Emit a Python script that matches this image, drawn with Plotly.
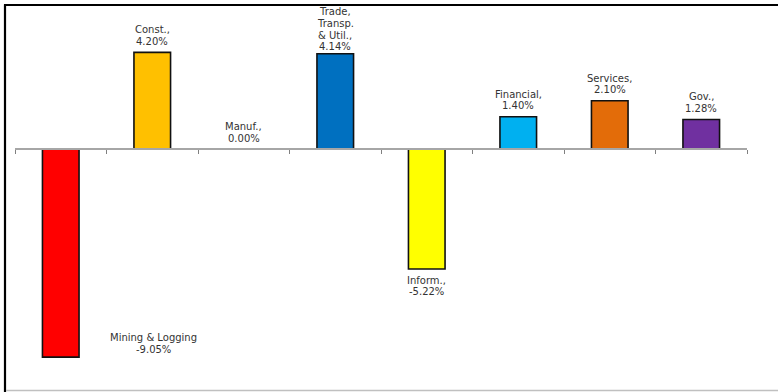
import plotly.graph_objects as go

# Sector data
sectors = ["Mining & Logging", "Const.,", "Manuf.,", "Trade,<br>Transp.<br>& Util.,",
           "Inform.,", "Financial,", "Services,", "Gov.,"]
changes = [-9.05, 4.20, 0.00, 4.14, -5.22, 1.40, 2.10, 1.28]
bar_colors = ["#FF0000", "#FFC000", "#FFFFFF", "#0070C0",
              "#FFFF00", "#00B0F0", "#E36C09", "#7030A0"]

W, H = 778, 392
L, R, T, B = 15, 31, 8, 7
PW, PH = W - L - R, H - T - B
YMAX, YMIN = 141 / 23.0, -236 / 23.0


def px_x(px):
    return (px - L) / PW


def px_y(py):
    return (H - B - py) / PH


cats = list(range(len(sectors)))

fig = go.Figure()
fig.add_trace(go.Bar(
    x=cats,
    y=changes,
    width=0.4,
    marker=dict(
        color=bar_colors,
        line=dict(color="#111111", width=[0 if v == 0 else 1.6 for v in changes]),
    ),
    hoverinfo="skip",
))

# Data labels, one annotation per text line for tight line spacing
font = dict(family="DejaVu Sans", size=10, color="#333333")
LINE = 11.7
annotations = []
for i, (name, v) in enumerate(zip(sectors, changes)):
    lines = name.split("<br>") + [f"{v:.2f}%"]
    n = len(lines)
    gap = 11 if n <= 2 else 7
    for k, txt in enumerate(lines):
        if v <= -8:
            # deepest bar: label sits beside the bar's end
            xs = 93
            ys = 8 + (n - 1 - k) * LINE
        elif v < 0:
            xs = 0
            ys = -(gap + k * LINE)
        else:
            xs = 0
            ys = gap + (n - 1 - k) * LINE
        annotations.append(dict(
            x=i, y=v, xref="x", yref="y", text=txt, showarrow=False,
            xanchor="center", yanchor="middle", xshift=xs, yshift=ys,
            font=font, borderpad=0,
        ))

# Outer frame: dark left/top edges, light bottom edge
shapes = [
    dict(type="line", xref="paper", yref="paper",
         x0=px_x(5), x1=px_x(5), y0=px_y(4.5), y1=px_y(H + 2),
         line=dict(color="#000000", width=2.2)),
    dict(type="line", xref="paper", yref="paper",
         x0=px_x(4), x1=px_x(W + 2), y0=px_y(5), y1=px_y(5),
         line=dict(color="#000000", width=2.2)),
    dict(type="line", xref="paper", yref="paper",
         x0=px_x(6), x1=px_x(W + 2), y0=px_y(390.5), y1=px_y(390.5),
         line=dict(color="#C0C0C0", width=1.5)),
]

zero_pos = (0 - YMIN) / (YMAX - YMIN)

fig.update_layout(
    width=W, height=H,
    margin=dict(l=L, r=R, t=T, b=B),
    paper_bgcolor="white",
    plot_bgcolor="white",
    showlegend=False,
    annotations=annotations,
    shapes=shapes,
    xaxis=dict(
        type="category",
        range=[-0.5, len(sectors) - 0.5],
        anchor="free", position=zero_pos,
        showline=True, linecolor="#A6A6A6", linewidth=1.5,
        ticks="outside", tickson="boundaries", ticklen=4,
        tickcolor="#808080", tickwidth=1,
        showticklabels=False, showgrid=False, zeroline=False,
        fixedrange=True,
    ),
    yaxis=dict(
        range=[YMIN, YMAX], visible=False, showgrid=False,
        zeroline=False, fixedrange=True,
    ),
)

fig.write_html("out.html")
